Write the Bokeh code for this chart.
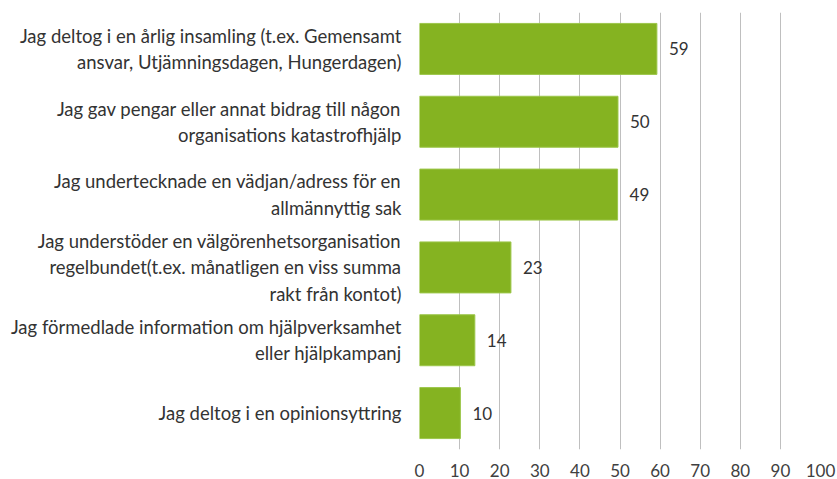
from bokeh.plotting import figure
from bokeh.models import ColumnDataSource, Range1d, FixedTicker
from bokeh.embed import file_html
from bokeh.resources import INLINE

categories = [
    "Jag deltog i en årlig insamling (t.ex. Gemensamt\nansvar, Utjämningsdagen, Hungerdagen)",
    "Jag gav pengar eller annat bidrag till någon\norganisations katastrofhjälp",
    "Jag undertecknade en vädjan/adress för en\nallmännyttig sak",
    "Jag understöder en välgörenhetsorganisation\nregelbundet(t.ex. månatligen en viss summa\nrakt från kontot)",
    "Jag förmedlade information om hjälpverksamhet\neller hjälpkampanj",
    "Jag deltog i en opinionsyttring",
]
values = [59.2, 49.5, 49.4, 22.8, 13.8, 10.2]
value_labels = ["59", "50", "49", "23", "14", "10"]
x_ticks = [0, 10, 20, 30, 40, 50, 60, 70, 80, 90, 100]

n = len(categories)
ypos = [n - 0.5 - i for i in range(n)]

src = ColumnDataSource(dict(y=ypos, v=values, lab=value_labels))

FONT = "Lato"

p = figure(width=837, height=479, output_backend="svg", toolbar_location=None,
           x_range=Range1d(0, 100), y_range=Range1d(0, n),
           min_border_left=419, min_border_right=17, min_border_top=12, min_border_bottom=29)
p.outline_line_color = None

p.hbar(y="y", right="v", left=0, height=0.7, source=src,
       fill_color="#85B321", line_color="#9CC64A", line_width=1)
p.text(x="v", y="y", text="lab", source=src, x_offset=12, text_baseline="middle",
       text_align="left", text_font_size="17px", text_color="#333333",
       text_font={"value": FONT})

p.xaxis.ticker = FixedTicker(ticks=x_ticks)
p.xaxis.axis_line_color = None
p.xaxis.major_tick_line_color = None
p.xaxis.minor_tick_line_color = None
p.xaxis.major_label_text_font_size = "17px"
p.xaxis.major_label_text_font = FONT
p.xaxis.major_label_text_color = "#404040"
p.xaxis.major_label_standoff = 8

p.yaxis.ticker = FixedTicker(ticks=ypos)
p.yaxis.major_label_overrides = {float(y): c for y, c in zip(ypos, categories)}
p.yaxis.axis_line_color = None
p.yaxis.major_tick_line_color = None
p.yaxis.minor_tick_line_color = None
p.yaxis.major_label_text_font_size = "18.5px"
p.yaxis.major_label_text_font = FONT
p.yaxis.major_label_text_color = "#333333"
p.yaxis.major_label_standoff = 12

p.xgrid.grid_line_color = "#BFBFBF"
p.xgrid.grid_line_width = 1
p.ygrid.grid_line_color = None

open("out.html", "w").write(file_html(p, INLINE))
